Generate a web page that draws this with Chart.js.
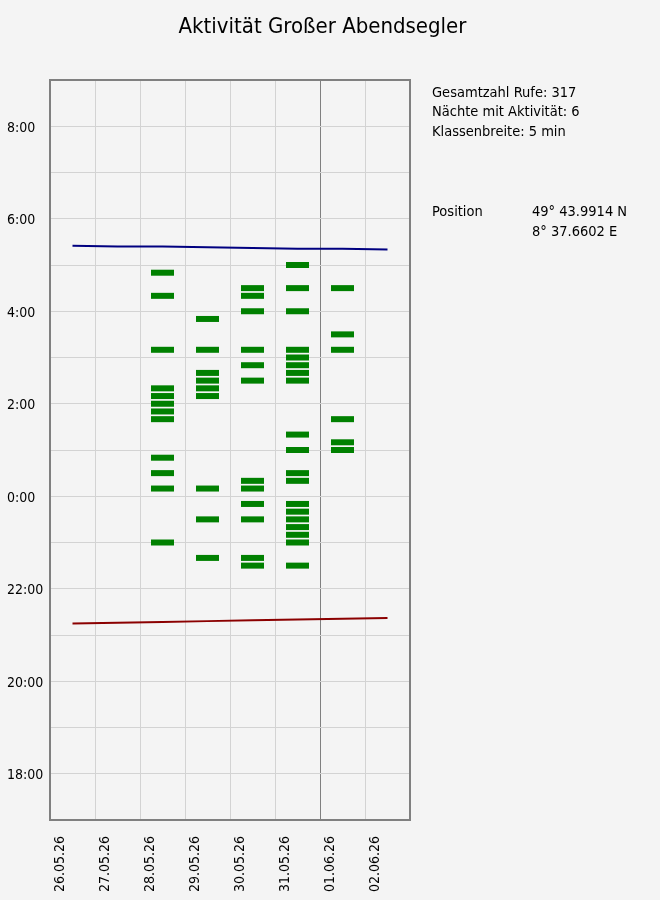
<!DOCTYPE html>
<html><head><meta charset="utf-8">
<script src="https://cdn.jsdelivr.net/npm/chart.js@4.4.1/dist/chart.umd.min.js"></script>
<style>html,body{margin:0;padding:0;background:#f4f4f4;}canvas{display:block}</style>
</head><body>
<canvas id="c" width="660" height="900"></canvas>
<script>
const FONT = "'DejaVu Sans Condensed', 'DejaVu Sans', sans-serif";

// ---- data ----
const titleText = 'Aktivität Großer Abendsegler';
const dateLabels = ['26.05.26','27.05.26','28.05.26','29.05.26','30.05.26','31.05.26','01.06.26','02.06.26'];
const sunrise = ['5:25','5:24','5:24','5:23','5:22','5:21','5:21','5:20'];
const sunset  = ['21:15','21:16','21:17','21:18','21:19','21:20','21:21','21:22'];
const callNights = ['28.05.26','29.05.26','30.05.26','31.05.26','01.06.26'];
const calls_28_05 = ['4:50','4:20','3:10','2:20','2:10','2:00','1:50','1:40','0:50','0:30','0:10','23:00'];
const calls_29_05 = ['3:50','3:10','2:40','2:30','2:20','2:10','0:10','23:30','22:40'];
const calls_30_05 = ['4:30','4:20','4:00','3:10','2:50','2:30','0:20','0:10','23:50','23:30','22:40','22:30'];
const calls_31_05 = ['5:00','4:30','4:00','3:10','3:00','2:50','2:40','2:30','1:20','1:00','0:30','0:20','23:50','23:40','23:30','23:20','23:10','23:00','22:30'];
const calls_01_06 = ['4:30','3:30','3:10','1:40','1:10','1:00'];
const callTimes = [calls_28_05, calls_29_05, calls_30_05, calls_31_05, calls_01_06];
const infoLines = ['Gesamtzahl Rufe: 317','Nächte mit Aktivität: 6','Klassenbreite: 5 min'];
const positionLabel = 'Position';
const positionValues = ['49° 43.9914 N','8° 37.6602 E'];

// time "H:MM" -> hours on a 17:00..33:00 night axis
function toHours(s){ const [h,m] = s.split(':').map(Number); let v = h + m/60; if (v < 12) v += 24; return v; }

const sunriseData = sunrise.map((t,i)=>({x:i+0.5, y:toHours(t)}));
const sunsetData  = sunset.map((t,i)=>({x:i+0.5, y:toHours(t)}));
const callData = [];
callNights.forEach((d,k)=>{
  const idx = dateLabels.indexOf(d);
  callTimes[k].forEach(t=>callData.push({x:idx+0.5, y:toHours(t)}));
});

const decor = {
  id:'decor',
  afterDraw(chart){
    const {ctx, chartArea:a} = chart;
    ctx.save();
    ctx.strokeStyle = '#808080'; ctx.lineWidth = 2;
    ctx.strokeRect(a.left, a.top, a.right-a.left, a.bottom-a.top);
    ctx.fillStyle = '#000';
    ctx.textBaseline = 'alphabetic';
    ctx.font = `22px ${FONT}`; ctx.textAlign = 'center';
    ctx.fillText(titleText, 322.5, 32.5);
    ctx.font = `14.5px ${FONT}`; ctx.textAlign = 'left';
    infoLines.forEach((t,i)=>ctx.fillText(t, 432, 96.5 + i*19.5));
    ctx.fillText(positionLabel, 432, 215.5);
    positionValues.forEach((t,i)=>ctx.fillText(t, 532, 215.5 + i*20));
    ctx.restore();
  }
};

new Chart(document.getElementById('c'), {
  type:'scatter',
  data:{ datasets:[
    { data: callData, pointStyle:'line', pointRadius:11.5, pointHoverRadius:11.5, pointBorderWidth:6, pointHoverBorderWidth:6, borderColor:'#008000', backgroundColor:'#008000', showLine:false },
    { data: sunriseData, showLine:true, borderColor:'#000080', borderWidth:2, pointRadius:0, fill:false },
    { data: sunsetData, showLine:true, borderColor:'#8b0000', borderWidth:2, pointRadius:0, fill:false }
  ]},
  options:{
    responsive:false, animation:false, devicePixelRatio:1, events:[],
    layout:{ padding:{ left:7, top:80, right:250, bottom:0 } },
    plugins:{ legend:{display:false}, tooltip:{enabled:false}, title:{display:false} },
    scales:{
      x:{ type:'linear', min:0, max:8,
        afterFit: s => { s.height = 80; },
        border:{display:false},
        grid:{ drawTicks:false, lineWidth:1, color: c => (c.tick && c.tick.value === 6) ? '#808080' : '#d3d3d3' },
        ticks:{ stepSize:1, autoSkip:false, maxRotation:90, minRotation:90, padding:16, labelOffset:10,
          color:'#000', font:{ family:FONT, size:14 },
          callback: v => dateLabels[v] ?? '' }
      },
      y:{ type:'linear', min:17, max:33,
        afterFit: s => { s.width = 43; },
        border:{display:false},
        grid:{ drawTicks:false, lineWidth:1, color:'#d3d3d3' },
        ticks:{ stepSize:1, autoSkip:false, crossAlign:'far', padding:0, labelOffset:2,
          color:'#000', font:{ family:FONT, size:14 },
          callback: v => (v % 2 === 0) ? `${v % 24}:00` : '' }
      }
    }
  },
  plugins:[decor]
});
</script>
</body></html>
